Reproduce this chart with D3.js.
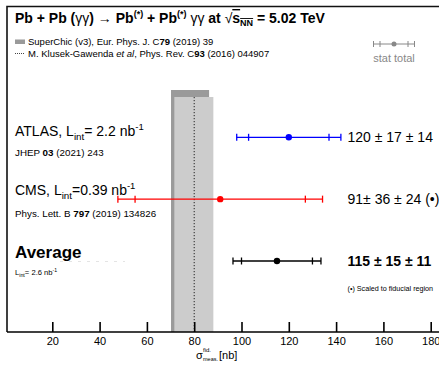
<!DOCTYPE html>
<html>
<head>
<meta charset="utf-8">
<script src="https://cdn.jsdelivr.net/npm/d3@7"></script>
<style>
  html, body { margin: 0; padding: 0; background: #fff; }
  svg { display: block; font-family: "Liberation Sans", Arial, Helvetica, sans-serif; }
</style>
</head>
<body>
<div id="chart"></div>
<script>
// measurements
const experiments = ['ATLAS', 'CMS', 'Average'];
const values = [120, 91, 115];
const statErr = [17, 36, 15];
const systErr = [14, 24, 11];
const valueLabels = ['120 \u00b1 17 \u00b1 14', '91\u00b1 36 \u00b1 24 (\u2022)', '115 \u00b1 15 \u00b1 11'];

// theory predictions
const superChicBand = [70.2, 86.3];
const klusekBand = [71.6, 88.1];
const klusekCentral = 80;

const xTicks = [20, 40, 60, 80, 100, 120, 140, 160, 180];

const width = 439, height = 367;
const colors = ['#0000ff', '#ff0000', '#000000'];

const svg = d3.select('#chart').append('svg')
  .attr('width', width)
  .attr('height', height);

const frameLeft = 7, frameTop = 6.5, axisY = 332;

const x = d3.scaleLinear().domain([0, 180]).range([5, 430.7]);
const y = d3.scaleLinear().domain([0, 2]).range([137.3, 261]);

// theory bands
svg.append('rect')
  .attr('x', x(superChicBand[0]))
  .attr('y', 90)
  .attr('width', x(superChicBand[1]) - x(superChicBand[0]))
  .attr('height', axisY - 90)
  .attr('fill', '#9a9a9a');

svg.append('rect')
  .attr('x', x(klusekBand[0]))
  .attr('y', 97)
  .attr('width', x(klusekBand[1]) - x(klusekBand[0]))
  .attr('height', axisY - 97)
  .attr('fill', '#cccccc');

svg.append('line')
  .attr('x1', x(klusekCentral)).attr('x2', x(klusekCentral))
  .attr('y1', 97).attr('y2', axisY)
  .attr('stroke', '#222')
  .attr('stroke-width', 1)
  .attr('stroke-dasharray', '1.2,1.8');

// frame
svg.append('path')
  .attr('d', `M${width + 5},${frameTop}H${frameLeft}V${axisY}`)
  .attr('fill', 'none')
  .attr('stroke', '#111')
  .attr('stroke-width', 1.6);

// x axis
const xAxis = d3.axisBottom(x)
  .tickValues(xTicks)
  .tickSizeInner(-10)
  .tickSizeOuter(0)
  .tickPadding(5);

const gx = svg.append('g')
  .attr('transform', `translate(0,${axisY})`)
  .call(xAxis);
gx.select('.domain').remove();
gx.selectAll('.tick line').attr('stroke', '#000').attr('stroke-width', 1.6);
gx.selectAll('.tick text')
  .attr('fill', '#000')
  .style('font-size', '11px')
  .style('font-family', '"Liberation Sans", Arial, sans-serif');
svg.append('line')
  .attr('x1', frameLeft).attr('x2', width + 5)
  .attr('y1', axisY).attr('y2', axisY)
  .attr('stroke', '#000').attr('stroke-width', 1.6);

// axis title
svg.append('text').attr('x', 196).attr('y', 359).attr('font-size', 11).text('\u03c3');
svg.append('text').attr('x', 203).attr('y', 351.5).attr('font-size', 6).text('fid.');
svg.append('text').attr('x', 203).attr('y', 361).attr('font-size', 5.5).text('meas.');
svg.append('text').attr('x', 219).attr('y', 359).attr('font-size', 11).text('[nb]');

// title
const title = svg.append('text').attr('x', 15).attr('y', 23)
  .attr('font-size', 14).attr('font-weight', 'bold');
title.append('tspan').text('Pb + Pb (');
title.append('tspan').attr('font-weight', 'normal').text('\u03b3\u03b3');
title.append('tspan').text(') ');
title.append('tspan').attr('font-weight', 'normal').text('\u2192');
title.append('tspan').text(' Pb');
title.append('tspan').attr('font-size', 9).attr('dy', -6).text('(*)');
title.append('tspan').attr('dy', 6).text(' + Pb');
title.append('tspan').attr('font-size', 9).attr('dy', -6).text('(*)');
title.append('tspan').attr('dy', 6).attr('font-weight', 'normal').text(' \u03b3\u03b3 ');
title.append('tspan').text('at ');
title.append('tspan').attr('font-weight', 'normal').text('\u221a');
title.append('tspan').attr('text-decoration', 'overline').text('s');
title.append('tspan').attr('font-size', 9).attr('dy', 3).attr('text-decoration', 'overline').text('NN');
title.append('tspan').attr('dy', -3).text(' = 5.02 TeV');

// legend
svg.append('rect').attr('x', 15).attr('y', 39.5).attr('width', 10).attr('height', 4.5).attr('fill', '#9a9a9a');
svg.append('line').attr('x1', 15).attr('x2', 25).attr('y1', 53.5).attr('y2', 53.5)
  .attr('stroke', '#444').attr('stroke-width', 1).attr('stroke-dasharray', '1,1');

const l1 = svg.append('text').attr('x', 28).attr('y', 45).attr('font-size', 9.5);
l1.append('tspan').text('SuperChic (v3), Eur. Phys. J. C');
l1.append('tspan').attr('font-weight', 'bold').text('79');
l1.append('tspan').text(' (2019) 39');

const l2 = svg.append('text').attr('x', 28).attr('y', 57).attr('font-size', 9.5);
l2.append('tspan').text('M. Klusek-Gawenda ');
l2.append('tspan').attr('font-style', 'italic').text('et al');
l2.append('tspan').text(', Phys. Rev. C');
l2.append('tspan').attr('font-weight', 'bold').text('93');
l2.append('tspan').text(' (2016) 044907');

// stat / total key
const keyY = 44, keyC = 394;
const keyG = svg.append('g').attr('stroke', '#888').attr('stroke-width', 1);
keyG.append('line').attr('x1', keyC - 20.5).attr('x2', keyC + 20.5).attr('y1', keyY).attr('y2', keyY);
[keyC - 20.5, keyC - 14, keyC + 14, keyC + 20.5].forEach(cx => {
  keyG.append('line').attr('x1', cx).attr('x2', cx).attr('y1', keyY - 3).attr('y2', keyY + 3);
});
svg.append('circle').attr('cx', keyC).attr('cy', keyY).attr('r', 2.5).attr('fill', '#888');
svg.append('text').attr('x', keyC).attr('y', 62).attr('text-anchor', 'middle')
  .attr('font-size', 11).attr('fill', '#888').text('stat total');

// measurement rows
experiments.forEach((name, i) => {
  const v = values[i];
  const tot = Math.sqrt(statErr[i] ** 2 + systErr[i] ** 2);
  const cy = y(i);
  const g = svg.append('g').attr('stroke', colors[i]).attr('stroke-width', 1.3);
  g.append('line').attr('x1', x(v - tot)).attr('x2', x(v + tot)).attr('y1', cy).attr('y2', cy);
  [v - tot, v - statErr[i], v + statErr[i], v + tot].forEach(e => {
    g.append('line').attr('x1', x(e)).attr('x2', x(e)).attr('y1', cy - 3.5).attr('y2', cy + 3.5);
  });
  svg.append('circle').attr('cx', x(v)).attr('cy', cy).attr('r', 3.2).attr('fill', colors[i]);

  svg.append('text')
    .attr('x', 347.5).attr('y', cy + 5)
    .attr('font-size', 14)
    .attr('font-weight', i === 2 ? 'bold' : 'normal')
    .text(valueLabels[i]);
});

// left labels
function lumiLabel(yy, pre, post, size) {
  const t = svg.append('text').attr('x', 15).attr('y', yy).attr('font-size', size);
  t.append('tspan').text(pre);
  t.append('tspan').attr('font-size', size * 0.7).attr('dy', size * 0.3).text('int');
  t.append('tspan').attr('dy', -size * 0.3).text(post);
  t.append('tspan').attr('font-size', size * 0.68).attr('dy', -size * 0.42).text('-1');
  return t;
}
lumiLabel(136, 'ATLAS, L', '= 2.2 nb', 14);
const r1 = svg.append('text').attr('x', 15).attr('y', 155.5).attr('font-size', 9.8);
r1.append('tspan').text('JHEP ');
r1.append('tspan').attr('font-weight', 'bold').text('03');
r1.append('tspan').text(' (2021) 243');

lumiLabel(194.5, 'CMS, L', '=0.39 nb', 14);
const r2 = svg.append('text').attr('x', 15).attr('y', 217).attr('font-size', 9.8);
r2.append('tspan').text('Phys. Lett. B ');
r2.append('tspan').attr('font-weight', 'bold').text('797');
r2.append('tspan').text(' (2019) 134826');

svg.append('text').attr('x', 15).attr('y', 258).attr('font-size', 17).attr('font-weight', 'bold').text('Average');
svg.append('line').attr('x1', 60).attr('x2', 125).attr('y1', 261.5).attr('y2', 261.5)
  .attr('stroke', '#e4e4e4').attr('stroke-width', 1).attr('stroke-dasharray', '3,6');
lumiLabel(275, 'L', '= 2.6 nb', 7.6);

svg.append('text').attr('x', 347.5).attr('y', 291).attr('font-size', 7.2)
  .text('(\u2022) Scaled to fiducial region');
</script>
</body>
</html>
